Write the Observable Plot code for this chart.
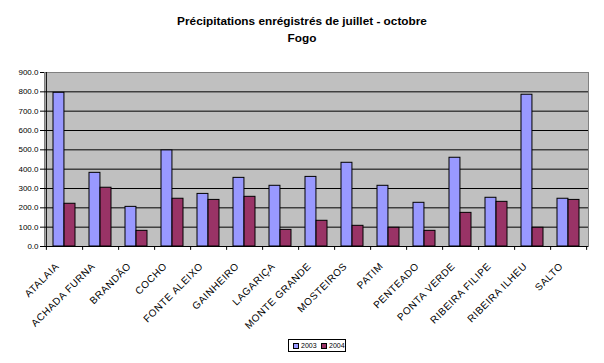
<!DOCTYPE html>
<html>
<head>
<meta charset="utf-8">
<script src="https://cdn.jsdelivr.net/npm/d3@7"></script>
<script src="https://cdn.jsdelivr.net/npm/@observablehq/plot@0.6"></script>
<style>
  html, body { margin: 0; padding: 0; background: #fff; }
  #wrap { position: relative; width: 604px; height: 363px; overflow: hidden; font-family: "Liberation Sans", Arial, sans-serif; }
  #title { position: absolute; left: 0; top: 13px; width: 604px; text-align: center; font-weight: bold; font-size: 11.8px; line-height: 17px; color: #000; }
  #legend { position: absolute; left: 288px; top: 339px; width: 56px; height: 11px; border: 1px solid #000; background: #fff; font-size: 7px; line-height: 11px; color: #000; }
  #legend span.sw { display: inline-block; width: 4px; height: 4px; border: 1px solid #000; vertical-align: middle; margin: 0 2px 0 0; }
  #legend .it { position: absolute; top: 0; }
  #chart { position: absolute; left: 0; top: 0; }
</style>
</head>
<body>
<div id="wrap">
  <div id="chart"></div>
  <div id="title">Précipitations enrégistrés de juillet - octobre<br>Fogo</div>
  <div id="legend"></div>
</div>
<script>
const stations = ["ATALAIA","ACHADA FURNA","BRANDÃO","COCHO","FONTE ALEIXO","GAINHEIRO","LAGARIÇA","MONTE GRANDE","MOSTEIROS","PATIM","PENTEADO","PONTA VERDE","RIBEIRA FILIPE","RIBEIRA ILHEU","SALTO"];
const years = ["2003", "2004"];
const values2003 = [795, 381, 205, 497, 272, 355, 314, 360, 433, 314, 226, 459, 252, 785, 247];
const values2004 = [221, 304, 81, 247, 241, 257, 86, 133, 107, 97, 81, 174, 231, 97, 241];
const yTicks = [0, 100, 200, 300, 400, 500, 600, 700, 800, 900];
const colors = ["#9999FF", "#993366"];

const d2003 = stations.map((s, i) => ({station: s, value: values2003[i]}));
const d2004 = stations.map((s, i) => ({station: s, value: values2004[i]}));

const W = 604, ML = 44, MR = 16;
const step = (W - ML - MR) / stations.length;

const chart = Plot.plot({
  width: W,
  height: 363,
  marginTop: 72,
  marginBottom: 117,
  marginLeft: ML,
  marginRight: MR,
  style: { fontFamily: "Liberation Sans, Arial, sans-serif", fontSize: "8px", color: "#000", background: "transparent" },
  x: { domain: stations, paddingInner: 0.39, paddingOuter: 0.195, axis: null },
  y: { domain: [0, 900], ticks: yTicks, tickFormat: d => d.toFixed(1), label: null, tickSize: 4, tickPadding: 2 },
  marks: [
    Plot.frame({ fill: "#C0C0C0", stroke: "#808080" }),
    Plot.ruleY(yTicks.slice(1, -1), { stroke: "#000" }),
    Plot.barY(d2003, { x: "station", y: "value", fill: colors[0], stroke: "#000", insetRight: step * 0.61 / 2 }),
    Plot.barY(d2004, { x: "station", y: "value", fill: colors[1], stroke: "#000", insetLeft: step * 0.61 / 2 }),
    Plot.ruleY([0], { stroke: "#000" }),
    Plot.ruleX([stations[0]], { dx: -step / 2, stroke: "#000" }),
    Plot.ruleX([stations[0]], { y1: 0, y2: -20, dx: -step / 2, stroke: "#000" }),
    Plot.ruleX(stations, { x: d => d, y1: 0, y2: -20, dx: step / 2, stroke: "#000" }),
    Plot.text(stations, { x: d => d, y: 0, text: d => d, rotate: -45, textAnchor: "end", lineAnchor: "middle", dx: -7, dy: 18, fontSize: 10, fill: "#000" })
  ]
});
chart.querySelectorAll('g[aria-label="text"] text').forEach(t => t.style.letterSpacing = "0.6px");
document.getElementById("chart").appendChild(chart);

const leg = document.getElementById("legend");
years.forEach((y, i) => {
  const it = document.createElement("div");
  it.className = "it";
  it.style.left = (4 + i * 28) + "px";
  it.innerHTML = `<span class="sw" style="background:${colors[i]}"></span>${y}`;
  leg.appendChild(it);
});
</script>
</body>
</html>
